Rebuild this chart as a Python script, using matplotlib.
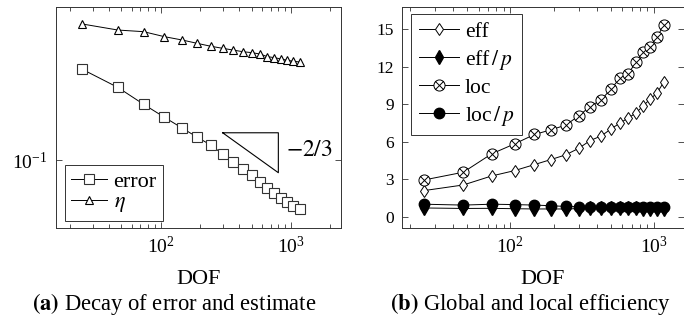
import numpy as np
import matplotlib
matplotlib.use('Agg')
import matplotlib.pyplot as plt
from matplotlib.path import Path
from matplotlib.ticker import LogLocator, NullLocator, NullFormatter, FixedLocator

plt.rcParams['font.family'] = ['Liberation Serif', 'DejaVu Serif']
plt.rcParams['mathtext.fontset'] = 'stix'

# data
dof = [25, 47, 74, 107, 147, 191, 243, 300, 359, 430, 501, 578, 660, 750, 845, 940, 1050, 1175]

error = [0.369, 0.284, 0.223, 0.185, 0.158, 0.139, 0.124, 0.109, 0.0968, 0.0879,
         0.0806, 0.0726, 0.0671, 0.0619, 0.0576, 0.0549, 0.0516, 0.0492]
eta = [0.708, 0.649, 0.634, 0.590, 0.562, 0.536, 0.514, 0.499, 0.487, 0.475,
       0.469, 0.460, 0.443, 0.436, 0.428, 0.420, 0.414, 0.410]

eff = [2.09, 2.54, 3.26, 3.69, 4.17, 4.57, 4.95, 5.48, 6.09, 6.47,
       7.01, 7.49, 7.89, 8.30, 8.90, 9.40, 9.90, 10.80]
eff_p = [0.70, 0.66, 0.67, 0.64, 0.62, 0.62, 0.62, 0.65, 0.66, 0.66,
         0.66, 0.66, 0.66, 0.66, 0.65, 0.65, 0.65, 0.65]
loc = [2.94, 3.56, 5.03, 5.83, 6.58, 6.95, 7.33, 8.08, 8.82, 9.36,
       10.21, 11.07, 11.44, 12.35, 13.15, 13.58, 14.38, 15.35]
loc_p = [1.00, 0.93, 1.00, 0.97, 0.93, 0.88, 0.82, 0.80, 0.80, 0.80,
         0.80, 0.80, 0.80, 0.80, 0.80, 0.80, 0.80, 0.78]

# slope triangle corners (DOF, value)
tri_x = [300, 804, 804, 300]
tri_y = [0.148, 0.148, 0.0833, 0.148]

W, H = 684, 325
fig = plt.figure(figsize=(W / 100, H / 100), dpi=100)

def px_axes(x0, x1, ytop, ybot):
    return fig.add_axes([x0 / W, 1 - ybot / H, (x1 - x0) / W, (ybot - ytop) / H])

axL = px_axes(56, 340.5, 7.3, 227.7)
axR = px_axes(402.3, 683.5, 7.3, 227.7)

edge = '#333333'
for ax in (axL, axR):
    for s in ax.spines.values():
        s.set_color(edge)
        s.set_linewidth(0.7)
    ax.set_xscale('log')
    ax.xaxis.set_major_locator(LogLocator(base=10, numticks=10))
    ax.xaxis.set_minor_locator(LogLocator(base=10, subs=np.arange(2, 10), numticks=10))
    ax.xaxis.set_minor_formatter(NullFormatter())
    ax.tick_params(which='both', direction='in', top=True, right=True,
                   color=edge, width=0.6, labelsize=12.5, pad=6)
    ax.tick_params(axis='x', labelsize=14)
    ax.tick_params(which='major', length=4.5)
    ax.tick_params(which='minor', length=3)
    ax.set_xlabel('DOF', fontsize=16, labelpad=9)

# ---- (a) ----
ax = axL
ax.set_yscale('log')
ax.set_xlim(15.7, 2416)
ax.set_ylim(0.03776, 0.9003)
ax.yaxis.set_major_locator(FixedLocator([0.1]))
ax.yaxis.set_minor_locator(NullLocator())
ax.tick_params(axis='y', labelsize=14)
ax.plot(dof, error, color='black', lw=0.7, marker='s', ms=7, mfc='white',
        mec=edge, mew=0.8, label='error')
ax.plot(dof, eta, color='black', lw=0.7, marker='^', ms=6, mfc='white',
        mec='black', mew=0.8, label=r'$\eta$')
ax.plot(tri_x, tri_y, color='black', lw=0.8)
ax.text(925, 0.1155, r'$-2/3$', fontsize=17, ha='left', va='center')
ax.legend(loc='lower left', bbox_to_anchor=(0.0306, 0.0304), borderaxespad=0,
          fontsize=16, fancybox=False, edgecolor=edge, framealpha=1,
          handlelength=1.6, handletextpad=0.3, labelspacing=0.0,
          borderpad=0.3).get_frame().set_linewidth(0.7)

# ---- (b) ----
ax = axR
ax.set_xlim(17.66, 1607)
ax.set_ylim(-0.88, 16.76)
ax.set_yticks([0, 3, 6, 9, 12, 15])
ax.yaxis.set_minor_locator(NullLocator())

circ = Path.unit_circle()
d = np.sqrt(0.5)
cross = Path([(-d, -d), (d, d), (-d, d), (d, -d)],
             [Path.MOVETO, Path.LINETO, Path.MOVETO, Path.LINETO])
otimes = Path.make_compound_path(circ, cross)

ax.plot(dof, eff, color='black', lw=0.7, marker='d', ms=6.5, mfc='white',
        mec='black', mew=0.7, label='eff')
ax.plot(dof, eff_p, color='black', lw=0.7, marker='d', ms=7, mfc='black',
        mec='black', label=r'eff$\,/\,p$')
ax.plot(dof, loc, color='black', lw=0.7, marker=otimes, ms=8, mfc='white',
        mec='black', mew=0.7, label='loc')
ax.plot(dof, loc_p, color='black', lw=0.7, marker='o', ms=7.5, mfc='black',
        mec='black', label=r'loc$\,/\,p$')
ax.legend(loc='upper left', bbox_to_anchor=(0.031, 0.9696), borderaxespad=0,
          fontsize=15.5, fancybox=False, edgecolor=edge, framealpha=1,
          handlelength=1.9, handletextpad=0.25, labelspacing=0.28,
          borderpad=0.35).get_frame().set_linewidth(0.7)

# captions
fig.text(174 / W, 1 - 304 / H, r'$\mathbf{(a)}$ Decay of error and estimate',
         fontsize=16.3, ha='center', va='center')
fig.text(530 / W, 1 - 304 / H, r'$\mathbf{(b)}$ Global and local efficiency',
         fontsize=16.3, ha='center', va='center')

fig.savefig('out.png', dpi=100)
